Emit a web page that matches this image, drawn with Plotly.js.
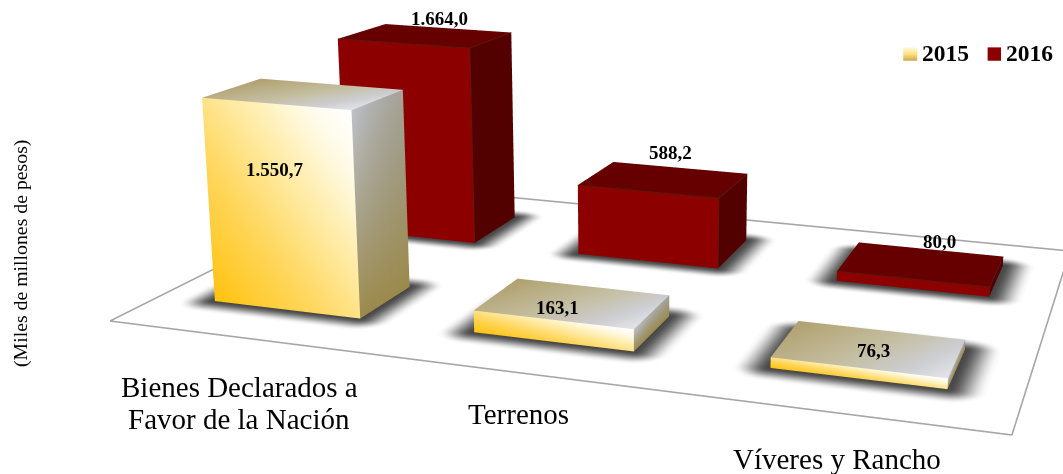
<!DOCTYPE html>
<html><head><meta charset="utf-8"><script src="https://cdn.plot.ly/plotly-3.0.1.min.js"></script>
<style>html,body{margin:0;background:#fff}</style></head><body><div id="c" style="width:1063px;height:474px"></div>
<script>
const categories=[['Bienes Declarados a','Favor de la Nación'],['Terrenos'],['Víveres y Rancho']];
const series=['2015','2016'];
const v2015=[1550.7,163.1,76.3];
const v2016=[1664.0,588.2,80.0];
const labels2015=['1.550,7','163,1','76,3'];
const labels2016=['1.664,0','588,2','80,0'];
const yTitle='(Miles de millones de pesos)';

const W=1063,H=474;
// 3D bar-chart projection: floor fraction (u,v) and value z -> page position
const P={a:755.3,b:395.5,c:110,d:51.0,e:-76.2,f:321,g:-0.1449,h:0.3233,s:-1.974e-5,vx:640,vy:7000};
function proj(u,v,z){const q=P.s*z,w=1+P.g*u+P.h*v+q;
 return [(P.a*u+P.b*v+P.c+q*P.vx)/w,(P.d*u+P.e*v+P.f+q*P.vy)/w];}
const catU=[[0.07,0.397,0.736],[0.066,0.398,0.737]], barW=0.187;
const rowV=[0.153,0.645], rowD=[0.19,0.205];

const X=[],Y=[],Z=[],I=[],J=[],K=[],C=[];
let layer=1;
function vtx(p,col){X.push(p[0]);Y.push(H-p[1]);Z.push(layer);C.push(col);return X.length-1;}
function rgb(c){return 'rgb('+c.map(Math.round).join(',')+')';}
function ramp(stops,x){x=Math.max(0,Math.min(1,x));for(let i=1;i<stops.length;i++){if(x<=stops[i][0]){const a=stops[i-1],b=stops[i],r=(x-a[0])/(b[0]-a[0]);return a[1].map((v,k)=>v+(b[1][k]-v)*r);}}return stops[stops.length-1][1];}
function grid(us,vs,pos,col){
 const idx=[];
 us.forEach((s,i)=>{idx[i]=[];vs.forEach((t,j)=>{idx[i][j]=vtx(pos(s,t),rgb(col(s,t)));});});
 for(let i=0;i<us.length-1;i++)for(let j=0;j<vs.length-1;j++){
  I.push(idx[i][j],idx[i][j]);J.push(idx[i+1][j],idx[i+1][j+1]);K.push(idx[i+1][j+1],idx[i][j+1]);}
 layer+=1;
}
const lin=n=>Array.from({length:n+1},(_,i)=>i/n);
function seg(p,q,w,col){const dx=q[0]-p[0],dy=q[1]-p[1],l=Math.hypot(dx,dy),nx=-dy/l*w/2,ny=dx/l*w/2;
 const a=vtx([p[0]+nx,p[1]+ny],col),b=vtx([q[0]+nx,q[1]+ny],col),c=vtx([q[0]-nx,q[1]-ny],col),d=vtx([p[0]-nx,p[1]-ny],col);
 I.push(a,a);J.push(b,c);K.push(c,d);layer+=1;}
const goldFront=[[0,[255,194,14]],[.35,[255,215,94]],[.65,[255,238,176]],[.85,[255,251,234]],[1,[255,255,255]]];
const goldTop=[[0,[176,160,110]],[.5,[196,190,160]],[.8,[205,206,210]],[1,[228,228,234]]];
const goldSide=[[0,[156,138,76]],[.5,[160,154,128]],[1,[172,173,176]]];

function shadow(u0,v0,wd,dp){
 const m=0.04,mv=0.06,n=8;
 const us=[...Array.from({length:n},(_,i)=>u0-m+m*i/n),u0,u0+wd,...Array.from({length:n},(_,i)=>u0+wd+m*(i+1)/n)];
 const vs=[...Array.from({length:n},(_,i)=>v0-mv+mv*i/n),v0,v0+dp,...Array.from({length:n},(_,i)=>v0+dp+mv*(i+1)/n)];
 grid(us,vs,(u,v)=>proj(u,v,0),(u,v)=>{
  const du=Math.max(u0-u,u-u0-wd,0)/m,dv=Math.max(v0-v,v-v0-dp,0)/mv,d=Math.min(1,Math.hypot(du,dv));
  const g=70+185*(d*d*(3-2*d));return [g,g,g];});
}
function bar(u0,v0,dp,z,isGold){
 const u1=u0+barW,v1=v0+dp,n=14;
 grid(lin(n),lin(n),(s,t)=>proj(u1,v0+dp*s,z*t),isGold?(s,t)=>ramp(goldSide,t*(1-0.25*s)).map((c,i)=>c+(t*(1-s)*(1-s))*[18,20,26][i]):()=>[82,0,0]);
 grid(lin(n),lin(n),(s,t)=>proj(u0+barW*s,v0+dp*t,z),isGold?(s,t)=>ramp(goldTop,(s*1.0+(1-t)*0.3)/1.3):()=>[102,0,0]);
 grid(lin(n),lin(n),(s,t)=>proj(u0+barW*s,v0,z*t),isGold?(s,t)=>ramp(goldFront,(s+t)/2):()=>[140,0,0]);
 if(!isGold){const col='rgb(92,24,14)';
  seg(proj(u0,v0,z),proj(u1,v0,z),1,col);seg(proj(u1,v0,z),proj(u1,v1,z),1,col);seg(proj(u1,v0,0),proj(u1,v0,z),1,col);}
}
const fl=[[0,0],[1,0],[1,1],[0,1]].map(c=>proj(c[0],c[1],0));
for(let i=0;i<4;i++)seg(fl[i],fl[(i+1)%4],1.6,'rgb(166,166,166)');
[1,0].forEach(r=>{const vals=r?v2016:v2015;
 vals.forEach((z,c)=>shadow(catU[r][c],rowV[r],barW,rowD[r]));
 vals.forEach((z,c)=>bar(catU[r][c],rowV[r],rowD[r],z,r===0));
});
const box=(x0,y0,x1,y1)=>(s,t)=>[x0+(x1-x0)*s,y1+(y0-y1)*t];
grid(lin(1),lin(6),box(903.3,47.3,917.3,60.7),(s,t)=>ramp([[0,[201,169,79]],[.5,[255,226,130]],[1,[255,250,225]]],t));
grid(lin(1),lin(1),box(987.7,47.3,1001,60.7),()=>[139,0,0]);

const traces=[{type:'mesh3d',x:X,y:Y,z:Z,i:I,j:J,k:K,vertexcolor:C,flatshading:false,
 lighting:{ambient:1,diffuse:0,specular:0,roughness:1,fresnel:0},hoverinfo:'skip',showscale:false}];

const serif='"Liberation Serif","Times New Roman",serif';
const note=(text,x,y,size,bold,extra)=>Object.assign({xref:'paper',yref:'paper',x:x/W,y:1-y/H,xanchor:'center',yanchor:'middle',showarrow:false,
  text:bold?'<b>'+text+'</b>':text,font:{family:serif,size:size,color:'#000'}},extra||{});
const annos=[];
const valPos2015=[[275,169],[557,307],[873,350]], valPos2016=[[439,19],[670,153],[939,241]];
labels2015.forEach((t,i)=>annos.push(note(t,valPos2015[i][0],valPos2015[i][1],19,true)));
labels2016.forEach((t,i)=>annos.push(note(t,valPos2016[i][0],valPos2016[i][1],19,true)));
const catPos=[[239,387],[518,414],[837,459]];
categories.forEach((lines,i)=>lines.forEach((t,k)=>annos.push(note(t,catPos[i][0],catPos[i][1]+32*k,29,false))));
annos.push(note(series[0],945,53,23.5,true));
annos.push(note(series[1],1029,53,23.5,true));
annos.push(note(yTitle,20,254,19.8,false,{textangle:-90}));

const ax=r=>({visible:false,showgrid:false,zeroline:false,showbackground:false,showspikes:false,range:r,autorange:false});
Plotly.newPlot('c',traces,{width:W,height:H,margin:{l:0,r:0,t:0,b:0},showlegend:false,paper_bgcolor:'#fff',annotations:annos,
 scene:{domain:{x:[0,1],y:[0,1]},xaxis:ax([0,W]),yaxis:ax([0,H]),zaxis:ax([0,layer+1]),dragmode:false,
  aspectmode:'manual',aspectratio:{x:2*W/H,y:2,z:0.2},
  camera:{eye:{x:0,y:0,z:2},center:{x:0,y:0,z:0},up:{x:0,y:1,z:0},projection:{type:'orthographic'}}}
},{displayModeBar:false});
</script></body></html>
